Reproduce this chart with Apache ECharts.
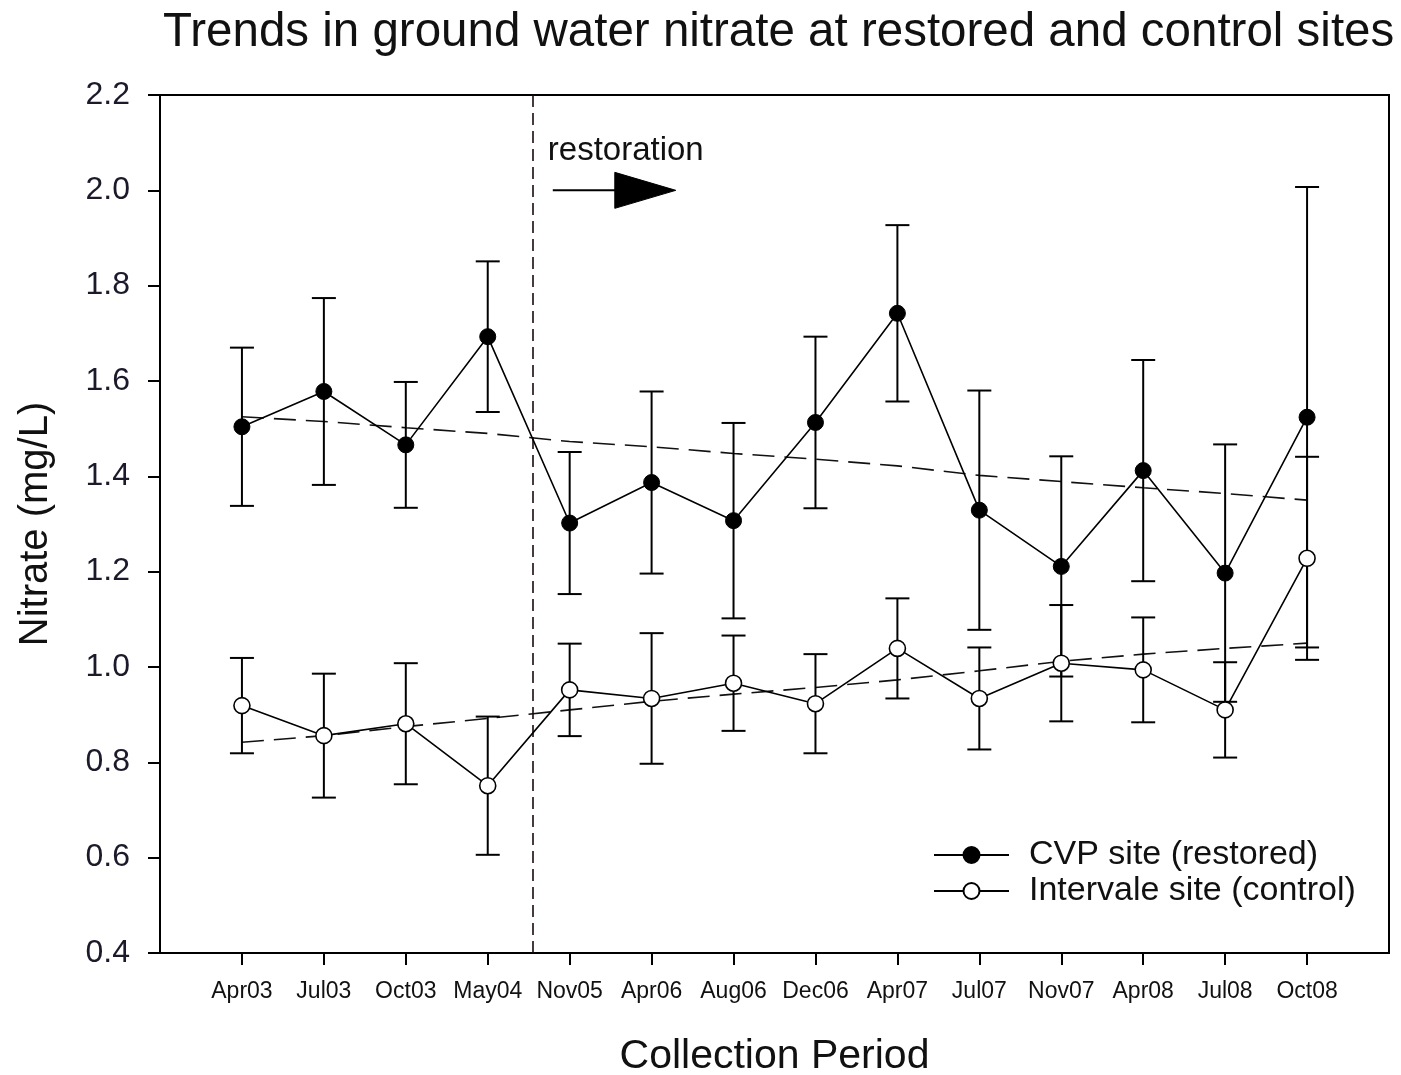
<!DOCTYPE html>
<html>
<head>
<meta charset="utf-8">
<script src="https://cdn.jsdelivr.net/npm/echarts@6/dist/echarts.min.js"></script>
<style>
html,body{margin:0;padding:0;background:#fff;}
#chart{width:1401px;height:1075px;}
</style>
</head>
<body>
<div id="chart"></div>
<script>
// ---- data ----
const categories = ['Apr03','Jul03','Oct03','May04','Nov05','Apr06','Aug06','Dec06','Apr07','Jul07','Nov07','Apr08','Jul08','Oct08'];
const cvpMean = [1.504,1.578,1.466,1.693,1.302,1.387,1.307,1.513,1.742,1.329,1.211,1.412,1.197,1.524];
const cvpErr  = [0.166,0.196,0.132,0.158,0.149,0.191,0.205,0.180,0.185,0.251,0.231,0.232,0.270,0.483];
const intMean = [0.919,0.856,0.881,0.751,0.952,0.934,0.966,0.923,1.039,0.934,1.008,0.994,0.910,1.228];
const intErr  = [0.100,0.130,0.127,0.145,0.097,0.137,0.100,0.104,0.105,0.107,0.122,0.110,0.100,0.213];
const cvpTrend = [1.525,1.515,1.502,1.490,1.473,1.462,1.448,1.436,1.422,1.402,1.389,1.376,1.364,1.350];
const intTrend = [0.842,0.856,0.875,0.892,0.910,0.928,0.943,0.957,0.973,0.992,1.012,1.027,1.039,1.050];
const yTicks = [0.4,0.6,0.8,1.0,1.2,1.4,1.6,1.8,2.0,2.2];
const restorationX = 4.55;     // between May04 and Nov05
const restorationArrowY = 2.0;
const seriesNames = ['CVP site (restored)', 'Intervale site (control)'];

const FONT = '"Liberation Sans", Arial, Helvetica, sans-serif';
const positions = categories.map((c, i) => i + 1);

function pts(vals) { return vals.map((v, i) => [positions[i], v]); }
function errData(mean, err) { return mean.map((m, i) => [positions[i], m, err[i]]); }

function errorRender(params, api) {
  const x = api.value(0), m = api.value(1), e = api.value(2);
  const top = api.coord([x, m + e]);
  const bot = api.coord([x, m - e]);
  const hw = 12;
  const st = { stroke: '#000', lineWidth: 2 };
  return {
    type: 'group',
    children: [
      { type: 'line', shape: { x1: top[0], y1: top[1], x2: bot[0], y2: bot[1] }, style: st },
      { type: 'line', shape: { x1: top[0] - hw, y1: top[1], x2: top[0] + hw, y2: top[1] }, style: st },
      { type: 'line', shape: { x1: bot[0] - hw, y1: bot[1], x2: bot[0] + hw, y2: bot[1] }, style: st }
    ]
  };
}

function annotationRender(params, api) {
  const p = api.coord([api.value(0), api.value(1)]);
  const x = p[0], y = p[1];
  return {
    type: 'group',
    children: [
      { type: 'text', style: { x: x + 15, y: y - 39, text: 'restoration', fill: '#111',
          font: '33px ' + FONT, verticalAlign: 'middle', align: 'left' } },
      { type: 'line', shape: { x1: x + 20, y1: y, x2: x + 86, y2: y }, style: { stroke: '#000', lineWidth: 2 } },
      { type: 'polygon', shape: { points: [[x + 82, y - 18], [x + 82, y + 18], [x + 143, y]] },
        style: { fill: '#000', stroke: '#000', lineWidth: 1 } }
    ]
  };
}

const chart = echarts.init(document.getElementById('chart'), null, { renderer: 'canvas' });
chart.setOption({
  animation: false,
  backgroundColor: '#fff',
  textStyle: { fontFamily: FONT },
  title: {
    text: 'Trends in ground water nitrate at restored and control sites',
    left: 158, top: 4,
    textStyle: { fontSize: 47.5, fontWeight: 'normal', color: '#111', fontFamily: FONT }
  },
  legend: {
    data: seriesNames,
    orient: 'vertical',
    left: 933, top: 838, padding: 0,
    itemWidth: 75, itemHeight: 20, itemGap: 2,
    textStyle: { fontSize: 34, color: '#111', padding: [0, 0, 0, 15], fontFamily: FONT }
  },
  grid: { left: 160, right: 12, top: 95, bottom: 122, outerBoundsMode: 'none', containLabel: false,
    show: true, borderColor: '#000', borderWidth: 2, backgroundColor: 'transparent' },
  xAxis: {
    type: 'value', min: 0, max: 15, interval: 1,
    name: 'Collection Period', nameLocation: 'middle', nameGap: 83,
    nameTextStyle: { fontSize: 41, color: '#111', fontFamily: FONT },
    axisLine: { show: true, onZero: false, lineStyle: { color: '#000', width: 2 } },
    axisTick: { show: true, inside: false, length: 12, customValues: positions, lineStyle: { color: '#000', width: 2 } },
    axisLabel: { show: true, customValues: positions, margin: 27, fontSize: 23, color: '#111',
      formatter: v => categories[Math.round(v) - 1] || '' },
    splitLine: { show: false }
  },
  yAxis: {
    type: 'value', min: 0.4, max: 2.2, interval: 0.2,
    name: 'Nitrate (mg/L)', nameLocation: 'middle', nameGap: 104,
    nameTextStyle: { fontSize: 40, color: '#111', fontFamily: FONT },
    axisLine: { show: true, onZero: false, lineStyle: { color: '#000', width: 2 } },
    axisTick: { show: true, inside: false, length: 12, lineStyle: { color: '#000', width: 2 } },
    axisLabel: { margin: 30, fontSize: 32, color: '#1a1a2a', formatter: v => v.toFixed(1) },
    splitLine: { show: false }
  },
  series: [
    { name: 'trend-cvp', type: 'line', data: pts(cvpTrend), symbol: 'none', silent: true, z: 2,
      lineStyle: { color: '#111', width: 1.6, type: [22, 10] } },
    { name: 'trend-int', type: 'line', data: pts(intTrend), symbol: 'none', silent: true, z: 2,
      lineStyle: { color: '#111', width: 1.6, type: [22, 10] } },
    { name: 'err-cvp', type: 'custom', data: errData(cvpMean, cvpErr), renderItem: errorRender,
      encode: { x: 0, y: 1 }, silent: true, z: 3 },
    { name: 'err-int', type: 'custom', data: errData(intMean, intErr), renderItem: errorRender,
      encode: { x: 0, y: 1 }, silent: true, z: 3 },
    { name: 'annotation', type: 'custom', data: [[restorationX, restorationArrowY]], renderItem: annotationRender,
      encode: { x: 0, y: 1 }, silent: true, z: 3 },
    { name: seriesNames[0], type: 'line', data: pts(cvpMean), symbol: 'circle', symbolSize: 16, z: 5,
      itemStyle: { color: '#000', borderColor: '#000', borderWidth: 1 },
      lineStyle: { color: '#000', width: 1.6 },
      markLine: { silent: true, symbol: ['none', 'none'], label: { show: false },
        lineStyle: { color: '#1a0a0a', width: 1.6, type: [12, 6] },
        data: [{ xAxis: restorationX }] } },
    { name: seriesNames[1], type: 'line', data: pts(intMean), symbol: 'circle', symbolSize: 16, z: 5,
      itemStyle: { color: '#fff', borderColor: '#000', borderWidth: 1.6 },
      lineStyle: { color: '#000', width: 1.6 } }
  ]
});
</script>
</body>
</html>
